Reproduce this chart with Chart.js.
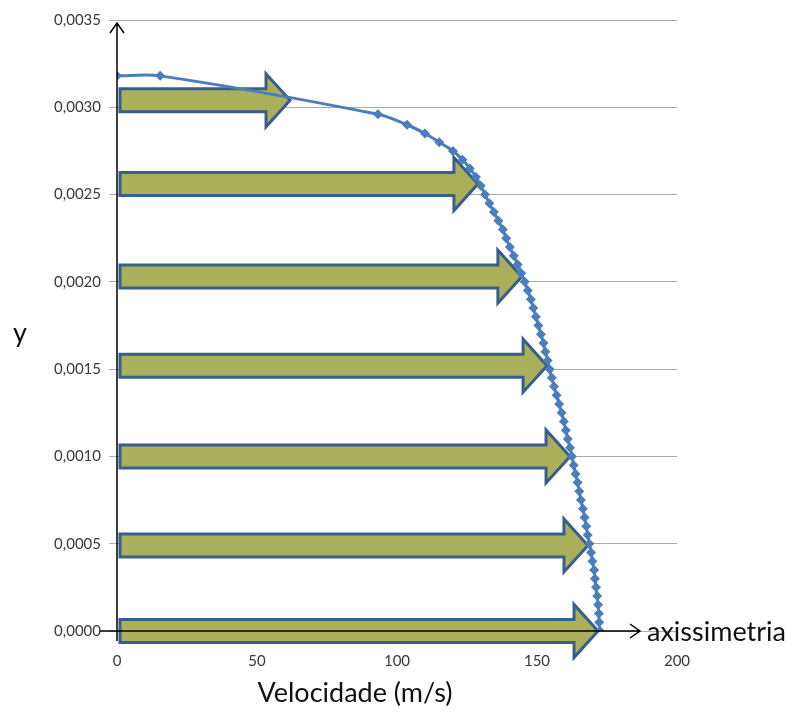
<!DOCTYPE html>
<html>
<head>
<meta charset="utf-8">
<script src="https://cdn.jsdelivr.net/npm/chart.js@4.4.1/dist/chart.umd.min.js"></script>
<style>
  html, body { margin: 0; padding: 0; background: #fff; }
  canvas { display: block; }
</style>
</head>
<body>
<canvas id="perfilChart" width="787" height="713"></canvas>
<script>
// perfil de velocidade
const velocidade = [0, 15.4, 93.2, 103.6, 110.0, 115.1, 120.0, 123.4, 126.0, 128.2, 129.9, 131.4, 133.0, 134.6, 136.2, 137.8,
    139.0, 140.3, 141.7, 143.1, 144.4, 145.6, 146.7, 147.8, 148.7, 149.6, 150.5, 151.4, 152.3, 153.0, 153.8, 154.5,
    155.3, 156.1, 157.0, 157.9, 158.8, 159.6, 160.3, 161.0, 161.8, 162.5, 163.1, 163.8, 164.5, 165.1, 165.7, 166.4,
    167.0, 167.6, 168.1, 168.7, 169.3, 169.8, 170.4, 170.7, 171.1, 171.5, 171.8, 172.1, 172.2, 172.5];
const posicaoY = [0.00318, 0.00318, 0.00296, 0.00290, 0.00285, 0.00280, 0.00275, 0.00270, 0.00265, 0.00260, 0.00255, 0.00250,
    0.00245, 0.00240, 0.00235, 0.00230, 0.00225, 0.00220, 0.00215, 0.00210, 0.00205, 0.00200, 0.00195, 0.00190,
    0.00185, 0.00180, 0.00175, 0.00170, 0.00165, 0.00160, 0.00155, 0.00150, 0.00145, 0.00140, 0.00135, 0.00130,
    0.00125, 0.00120, 0.00115, 0.00110, 0.00105, 0.00100, 0.00095, 0.00090, 0.00085, 0.00080, 0.00075, 0.00070,
    0.00065, 0.00060, 0.00055, 0.00050, 0.00045, 0.00040, 0.00035, 0.00030, 0.00025, 0.00020, 0.00015, 0.00010,
    0.00005, 0.00000];

// setas (altura e comprimento = velocidade)
const setaY = [0.00304, 0.00256, 0.00203, 0.00152, 0.00100, 0.00049, 0.00000];
const setaV = [61.8, 128.9, 144.6, 153.6, 161.8, 168.2, 171.8];

const xTicks = [0, 50, 100, 150, 200];
const yTicks = [0, 0.0005, 0.001, 0.0015, 0.002, 0.0025, 0.003, 0.0035];

const fonte = 'Lato, "Open Sans", sans-serif';

const pontos = velocidade.map((v, i) => ({ x: v, y: posicaoY[i] }));

const desenho = {
    id: 'desenho',
    beforeDatasetsDraw(chart) {
        const ctx = chart.ctx;
        const xs = chart.scales.x, ys = chart.scales.y;
        ctx.save();
        ctx.fillStyle = '#A9AF5B';
        ctx.strokeStyle = '#3A5E8C';
        ctx.lineWidth = 3;
        ctx.lineJoin = 'miter';
        setaY.forEach((v, i) => {
            const cy = ys.getPixelForValue(v);
            const x0 = xs.getPixelForValue(0) + 3;
            const tip = xs.getPixelForValue(setaV[i]);
            const headL = 24, bodyH = 11.5, headH = 26.5;
            ctx.beginPath();
            ctx.moveTo(x0, cy - bodyH);
            ctx.lineTo(tip - headL, cy - bodyH);
            ctx.lineTo(tip - headL, cy - headH);
            ctx.lineTo(tip, cy);
            ctx.lineTo(tip - headL, cy + headH);
            ctx.lineTo(tip - headL, cy + bodyH);
            ctx.lineTo(x0, cy + bodyH);
            ctx.closePath();
            ctx.fill();
            ctx.stroke();
        });
        ctx.restore();
    },
    afterDraw(chart) {
        const ctx = chart.ctx;
        const xs = chart.scales.x, ys = chart.scales.y;
        const x0 = xs.getPixelForValue(0);
        const y0 = ys.getPixelForValue(0);
        const top = ys.getPixelForValue(0.0035);
        ctx.save();
        ctx.strokeStyle = '#000';
        ctx.lineWidth = 1.5;
        // eixo vertical com seta
        ctx.beginPath();
        ctx.moveTo(x0, y0 + 10);
        ctx.lineTo(x0, top + 3);
        ctx.moveTo(x0 - 7, top + 13);
        ctx.lineTo(x0, top + 3);
        ctx.lineTo(x0 + 7, top + 13);
        // eixo horizontal com seta
        ctx.moveTo(x0 - 17, y0);
        ctx.lineTo(x0 + 523, y0);
        ctx.moveTo(x0 + 513, y0 - 7);
        ctx.lineTo(x0 + 523, y0);
        ctx.lineTo(x0 + 513, y0 + 7);
        ctx.stroke();

        ctx.fillStyle = '#111';
        ctx.font = '27px ' + fonte;
        ctx.textBaseline = 'middle';
        ctx.textAlign = 'left';
        ctx.fillText('axissimetria', x0 + 530, y0 + 1);
        ctx.fillText('y', 13, 333);
        ctx.textAlign = 'center';
        ctx.fillText('Velocidade (m/s)', 355, 693);
        ctx.restore();
    }
};

new Chart(document.getElementById('perfilChart').getContext('2d'), {
    type: 'scatter',
    data: {
        datasets: [{
            data: pontos,
            showLine: true,
            borderColor: '#4A7EBB',
            backgroundColor: '#4A7EBB',
            borderWidth: 3,
            pointStyle: 'rectRot',
            pointRadius: 5,
            pointBorderWidth: 0,
            tension: 0.3
        }]
    },
    options: {
        responsive: false,
        animation: false,
        layout: { padding: { top: 20, right: 110, bottom: 0, left: 0 } },
        plugins: {
            legend: { display: false },
            tooltip: { enabled: false }
        },
        scales: {
            x: {
                type: 'linear',
                min: 0,
                max: 200,
                afterFit: s => { s.height = 82; },
                afterBuildTicks: s => { s.ticks = xTicks.map(v => ({ value: v })); },
                grid: { display: false, drawTicks: false },
                border: { display: false },
                ticks: { padding: 21, color: '#3a3a3a', font: { family: fonte, size: 15 } }
            },
            y: {
                type: 'linear',
                min: 0,
                max: 0.0035,
                afterFit: s => { s.width = 117; },
                afterBuildTicks: s => { s.ticks = yTicks.map(v => ({ value: v })); },
                grid: { color: '#ABABAB', lineWidth: 1, tickLength: 8 },
                border: { display: false },
                ticks: {
                    padding: 8,
                    color: '#3a3a3a',
                    font: { family: fonte, size: 15 },
                    callback: v => v.toFixed(4).replace('.', ',')
                }
            }
        }
    },
    plugins: [desenho]
});
</script>
</body>
</html>
